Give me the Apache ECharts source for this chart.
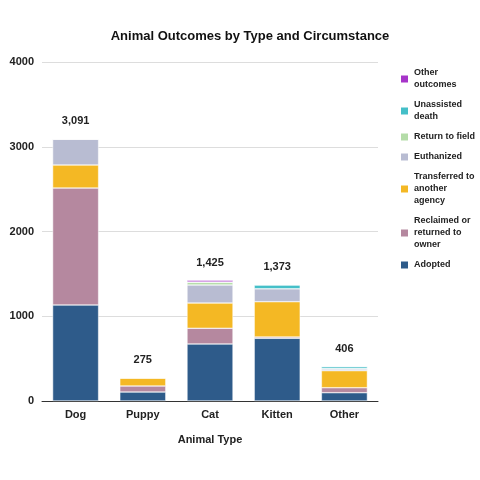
<!DOCTYPE html><html><head><meta charset="utf-8"><script src="https://cdn.jsdelivr.net/npm/echarts@6/dist/echarts.min.js"></script></head><body style="margin:0"><div id="c" style="width:480px;height:480px"></div><script>
const categories=['Dog','Puppy','Cat','Kitten','Other'];
const adopted=[1133,106,673,740,98];
const reclaimed=[1380,71,185,15,59];
const transferred=[272,94,298,417,201];
const euthanized=[306,4,213,153,20];
const returnField=[0,0,31,0,5];
const unassisted=[0,0,5,44,23];
const otherOutcomes=[0,0,20,4,0];
const totals=[3091,275,1425,1373,406];
const yTicks=[0,1000,2000,3000,4000];
const names=['Adopted','Reclaimed or\nreturned to\nowner','Transferred to\nanother\nagency','Euthanized','Return to field','Unassisted\ndeath','Other\noutcomes'];
const colors=['#2e5b8a','#b5889f','#f4b824','#b8bcd2','#b4dca8','#44bfc8','#a634c9'];
const data=[adopted,reclaimed,transferred,euthanized,returnField,unassisted,otherOutcomes];
const series=data.map((d,i)=>({name:names[i],type:'bar',stack:'s',data:d,barWidth:46,itemStyle:{color:colors[i],borderColor:'#fff',borderWidth:0.5},
 label:i===6?{show:true,position:'top',distance:12,formatter:p=>totals[p.dataIndex].toLocaleString('en-US'),fontWeight:'bold',fontSize:11,color:'#222'}:{show:false}}));
const ch=echarts.init(document.getElementById('c'));
ch.setOption({animation:false,textStyle:{fontFamily:'Liberation Sans, Arial'},
title:{text:'Animal Outcomes by Type and Circumstance',left:245,top:25,textAlign:'center',textStyle:{fontSize:13,fontWeight:'bold',color:'#111'}},
legend:{orient:'vertical',left:394,top:62,itemWidth:9,itemHeight:9,itemGap:8,data:names.slice().reverse(),textStyle:{fontSize:9,fontWeight:'bold',color:'#222',lineHeight:12},icon:'rect'},
grid:{left:42,right:102,top:62,bottom:79},
xAxis:{type:'category',data:categories,name:'Animal Type',nameLocation:'middle',nameGap:33,nameTextStyle:{fontWeight:'bold',fontSize:11,color:'#222'},axisTick:{show:false},axisLine:{lineStyle:{color:'#333'}},axisLabel:{fontWeight:'bold',fontSize:11,color:'#222'}},
yAxis:{type:'value',min:yTicks[0],max:yTicks[4],interval:1000,splitLine:{lineStyle:{color:'#ddd'}},axisLabel:{fontWeight:'bold',fontSize:11,color:'#222',formatter:v=>String(v)}},
series});
</script></body></html>
